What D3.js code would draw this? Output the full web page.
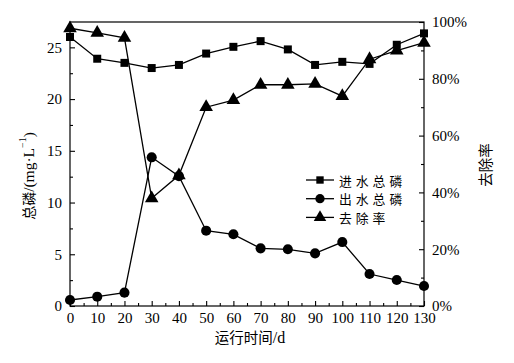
<!DOCTYPE html>
<html><head><meta charset="utf-8">
<script src="https://cdn.jsdelivr.net/npm/d3@7"></script>
<style>body{margin:0;background:#fff}svg{display:block}</style>
</head><body><svg id="c" width="514" height="363"></svg>
<script>
const days = [0,10,20,30,40,50,60,70,80,90,100,110,120,130];
const influent = [26.0,23.9,23.5,23.0,23.3,24.4,25.05,25.6,24.8,23.3,23.6,23.4,25.25,26.35];
const effluent = [0.58,0.9,1.29,14.37,12.55,7.28,6.93,5.57,5.48,5.09,6.18,3.09,2.51,1.93];
const removal = [97.8,96.2,94.4,37.9,46.0,70.0,72.5,77.9,77.9,78.2,73.9,86.9,89.9,92.7];
const leftTicks = [0,5,10,15,20,25];
const rightTicks = [0,20,40,60,80,100];
const seriesNames = ["进水总磷","出水总磷","去除率"];

const svg = d3.select("#c");
const L=70,R=424,T=22,B=306;
const x = d3.scaleLinear().domain([0,130]).range([L,R]);
const yL = d3.scaleLinear().domain([0,27.45]).range([B,T]);
const yR = d3.scaleLinear().domain([0,100]).range([B,T]);
const serif = "'Liberation Serif','Times New Roman',serif";
const cjk = "'Noto Sans CJK SC',sans-serif";

// frame
svg.append("rect").attr("x",L).attr("y",T).attr("width",R-L).attr("height",B-T)
  .attr("fill","none").attr("stroke","#000").attr("stroke-width",1.2);

// x axis
const xa = svg.append("g").attr("transform",`translate(0,${B})`)
  .call(d3.axisBottom(x).tickValues(days).tickSizeInner(-5).tickSizeOuter(0).tickPadding(6));
xa.select(".domain").remove();
xa.selectAll("line").attr("stroke-width",1.1);
xa.selectAll("text").attr("font-family",serif).attr("font-size",15).attr("fill","#000");
svg.append("g").attr("transform",`translate(0,${B})`)
  .call(d3.axisBottom(x).tickValues(d3.range(5,130,10)).tickSize(-3).tickFormat(""))
  .call(g=>{g.select(".domain").remove();g.selectAll("line").attr("stroke-width",1.1);});

// left axis
const la = svg.append("g").attr("transform",`translate(${L},0)`)
  .call(d3.axisLeft(yL).tickValues(leftTicks).tickSizeInner(-5).tickSizeOuter(0).tickPadding(8));
la.select(".domain").remove();
la.selectAll("line").attr("stroke-width",1.1);
la.selectAll("text").attr("font-family",serif).attr("font-size",15).attr("fill","#000");
svg.append("g").attr("transform",`translate(${L},0)`)
  .call(d3.axisLeft(yL).tickValues(d3.range(2.5,27.5,5)).tickSize(-3).tickFormat(""))
  .call(g=>{g.select(".domain").remove();g.selectAll("line").attr("stroke-width",1.1);});

// right axis
const ra = svg.append("g").attr("transform",`translate(${R},0)`)
  .call(d3.axisRight(yR).tickValues(rightTicks).tickSizeInner(-5).tickSizeOuter(0).tickPadding(8).tickFormat(d=>d+"%"));
ra.select(".domain").remove();
ra.selectAll("line").attr("stroke-width",1.1);
ra.selectAll("text").attr("font-family",serif).attr("font-size",15).attr("fill","#000");
svg.append("g").attr("transform",`translate(${R},0)`)
  .call(d3.axisRight(yR).tickValues(d3.range(10,100,20)).tickSize(-3).tickFormat(""))
  .call(g=>{g.select(".domain").remove();g.selectAll("line").attr("stroke-width",1.1);});

// titles
svg.append("text").attr("transform","translate(28,176) rotate(-90)").attr("text-anchor","middle")
  .attr("dominant-baseline","central").attr("font-size",14).attr("fill","#000")
  .call(t=>{
    t.append("tspan").attr("font-family",cjk).text("总磷");
    t.append("tspan").attr("font-family",serif).attr("font-size",15.5).text("/(mg·L");
    t.append("tspan").attr("font-family",serif).attr("font-size",10).attr("dy",-6).text("−1");
    t.append("tspan").attr("font-family",serif).attr("font-size",15.5).attr("dy",6).text(")");
  });
svg.append("text").attr("transform","translate(484,165) rotate(-90)").attr("text-anchor","middle")
  .attr("dominant-baseline","central").attr("font-family",cjk).attr("font-size",14.5).attr("fill","#000").text("去除率");
svg.append("text").attr("x",250).attr("y",343).attr("text-anchor","middle").attr("font-size",14.5).attr("fill","#000")
  .call(t=>{
    t.append("tspan").attr("font-family",cjk).text("运行时间");
    t.append("tspan").attr("font-family",serif).attr("font-size",16).text("/d");
  });

// series
const line = (ys,yv)=>d3.line().x((d,i)=>x(days[i])).y(d=>ys(d))(yv);
const sym = [d3.symbolSquare,d3.symbolCircle,d3.symbolTriangle];
const sizes = [64,80,80];
const data = [[influent,yL],[effluent,yL],[removal,yR]];
data.forEach(([vals,ys],k)=>{
  svg.append("path").attr("d",line(ys,vals)).attr("fill","none").attr("stroke","#000").attr("stroke-width",1.3);
  svg.append("g").selectAll("path").data(vals).join("path")
    .attr("transform",(d,i)=>`translate(${x(days[i])},${ys(d)})`)
    .attr("d",d3.symbol().type(sym[k]).size(sizes[k])).attr("fill","#000");
});

// legend
const lg = svg.append("g");
seriesNames.forEach((n,k)=>{
  const yy = 180 + k*18.7;
  lg.append("line").attr("x1",306).attr("x2",334).attr("y1",yy).attr("y2",yy).attr("stroke","#000").attr("stroke-width",1.3);
  lg.append("path").attr("transform",`translate(320,${yy})`).attr("d",d3.symbol().type(sym[k]).size(sizes[k]*0.85)).attr("fill","#000");
  lg.append("text").attr("x",339).attr("y",yy).attr("dominant-baseline","central")
    .attr("font-family",cjk).attr("font-size",12.8).attr("letter-spacing",4).attr("fill","#000").text(n);
});
</script></body></html>
